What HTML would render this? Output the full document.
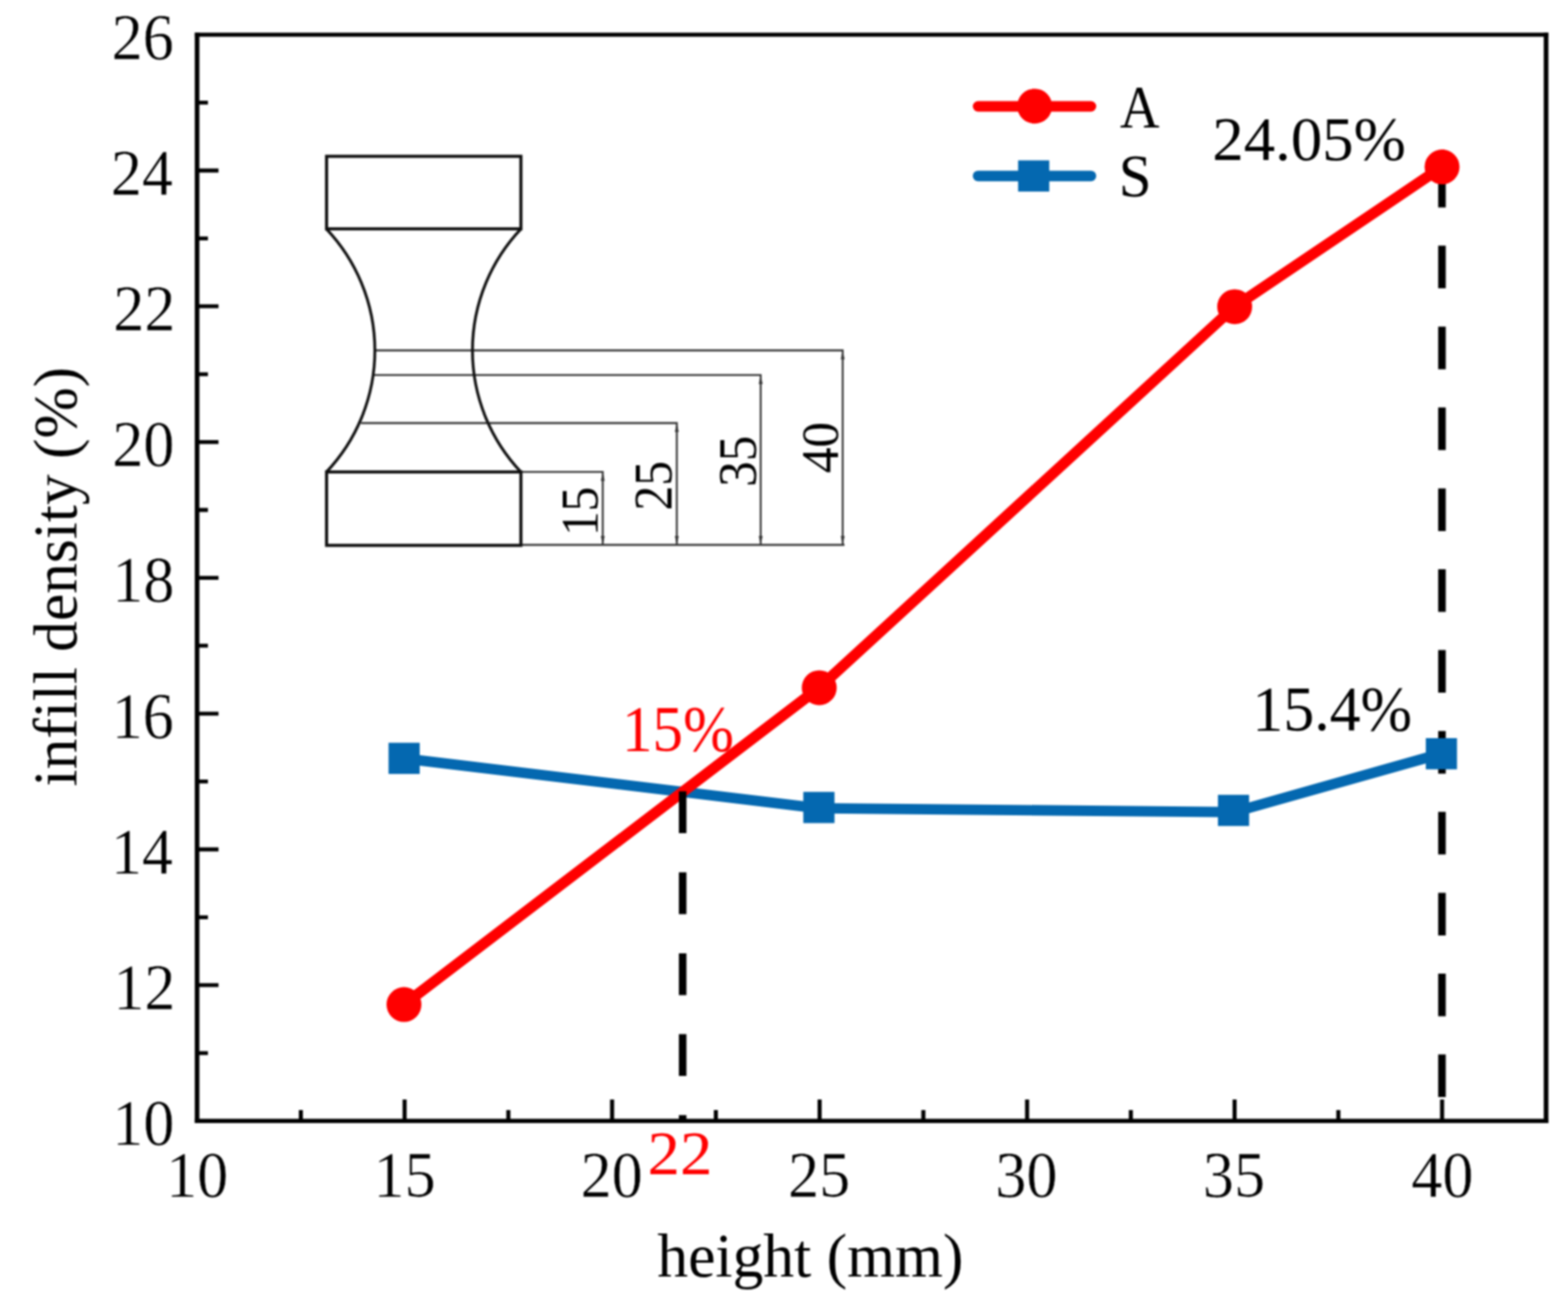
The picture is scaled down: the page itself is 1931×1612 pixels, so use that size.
<!DOCTYPE html>
<html lang="en"><head><meta charset="utf-8"><title>infill density vs height</title>
<style>
html,body{margin:0;padding:0;background:#fff;}
body{width:1931px;height:1612px;overflow:hidden;}
svg{display:block;}
text{font-family:"Liberation Serif",serif;fill:#000;stroke-linejoin:round;}
</style></head><body>
<svg width="1931" height="1612" viewBox="0 0 1931 1612" role="img" aria-label="infill density versus height chart">
<defs><filter id="soft" color-interpolation-filters="sRGB" x="0" y="0" width="1931" height="1612" filterUnits="userSpaceOnUse"><feGaussianBlur stdDeviation="1.00" color-interpolation-filters="sRGB"/></filter></defs>
<rect x="0" y="0" width="1931" height="1612" fill="#fff"/>
<g filter="url(#soft)">
<rect x="0" y="0" width="1931" height="1612" fill="#fff"/>
<g id="inset" fill="none" stroke-linecap="butt">
<g stroke="#333" stroke-width="2.3">
<path d="M461.5 431.5 H1037.8 V671.0"/>
<path d="M460.0 461.9 H936.8 V671.0"/>
<path d="M444.5 521.0 H833.5 V671.0"/>
<path d="M641.5 581.2 H742.3 V671.0"/>
<path d="M641.5 671.0 H1040"/>
</g>
<g fill="#333" stroke="none">
<path d="M1037.8 431.5 l-2.4 11 h4.8 z"/>
<path d="M1037.8 671.0 l-2.4 -11 h4.8 z"/>
<path d="M936.8 461.9 l-2.4 11 h4.8 z"/>
<path d="M936.8 671.0 l-2.4 -11 h4.8 z"/>
<path d="M833.5 521.0 l-2.4 11 h4.8 z"/>
<path d="M833.5 671.0 l-2.4 -11 h4.8 z"/>
<path d="M742.3 581.2 l-2.4 11 h4.8 z"/>
<path d="M742.3 671.0 l-2.4 -11 h4.8 z"/>
</g>
<g stroke="#111" stroke-width="3.5">
<path d="M402 282 A217.4 217.4 0 0 1 402 581.2"/>
<path d="M641.5 282 A217.4 217.4 0 0 0 641.5 581.2"/>
</g>
<g stroke="#0d0d0d" stroke-width="3.8" stroke-linejoin="miter">
<rect x="402.2" y="192.5" width="239.3" height="89.3"/>
<rect x="402.2" y="581.2" width="239.3" height="90.4"/>
</g>
</g>
<text transform="translate(736.04 659.95) rotate(-90) scale(0.9239 1)" style="font-size:65.56px;fill:#000">15</text>
<text transform="translate(827.13 628.86) rotate(-90) scale(0.9206 1)" style="font-size:66.72px;fill:#000">25</text>
<text transform="translate(930.83 599.55) rotate(-90) scale(0.9417 1)" style="font-size:66.87px;fill:#000">35</text>
<text transform="translate(1032.24 582.87) rotate(-90) scale(0.9553 1)" style="font-size:66.37px;fill:#000">40</text>
<text transform="translate(766.03 924.90) scale(0.9436 1)" style="font-size:79.70px;fill:#ff0000">15%</text>
<text transform="translate(1493.12 197.16) scale(1.0159 1)" style="font-size:76.03px">24.05%</text>
<text transform="translate(1542.35 898.93) scale(0.9728 1)" style="font-size:78.22px">15.4%</text>
<polyline fill="none" stroke="#0468b0" stroke-width="12.8" stroke-linejoin="round" points="497.7,934.1 1008.5,995.3 1519.5,1000.1 1775.3,928.0"/>
<polyline fill="none" stroke="#ff0000" stroke-width="13.3" stroke-linejoin="round" points="497.5,1237.1 1008.9,846.9 1520.5,377.7 1775.9,205.6"/>
<g stroke="#000" stroke-width="9.3" fill="none">
<path d="M840.7 974.5 V1380" stroke-dasharray="51.5 48.2"/>
<path d="M1775.8 203 V1380" stroke-dasharray="52.5 47.1"/>
</g>
<rect x="478.5" y="914.7" width="38.4" height="38.4" fill="#0468b0"/>
<rect x="989.3" y="975.2" width="38.4" height="38.4" fill="#0468b0"/>
<rect x="1499.9" y="978.8" width="38.4" height="38.4" fill="#0468b0"/>
<rect x="1755.9" y="909.0" width="38.4" height="38.4" fill="#0468b0"/>
<circle cx="497.5" cy="1237.1" r="21.5" fill="#ff0000"/>
<circle cx="1008.9" cy="846.9" r="21.5" fill="#ff0000"/>
<circle cx="1520.5" cy="377.7" r="21.5" fill="#ff0000"/>
<circle cx="1775.9" cy="205.6" r="21.5" fill="#ff0000"/>
<g stroke-linecap="round" fill="none">
<path d="M1204.5 131 H1343.5" stroke="#ff0000" stroke-width="13"/>
<path d="M1204.5 216.7 H1343.5" stroke="#0468b0" stroke-width="13"/>
</g>
<circle cx="1274.2" cy="130.7" r="21.5" fill="#ff0000"/>
<rect x="1253.8" y="197.5" width="38.4" height="38.4" fill="#0468b0"/>
<text transform="translate(1379.33 156.60) scale(0.9156 1)" style="font-size:73.59px">A</text>
<text transform="translate(1377.68 241.96) scale(0.9821 1)" style="font-size:73.88px">S</text>
<g stroke="#000" fill="none" stroke-linecap="butt">
<path d="M239.85 42.75 H1906.85 M239.85 1380.40 H1906.85" stroke-width="5.2"/>
<path d="M242.70 40.15 V1383.00 M1904.00 40.15 V1383.00" stroke-width="5.7"/>
<path d="M242.70 1296.80 h13.4 M242.70 1213.20 h26.4 M242.70 1129.60 h13.4 M242.70 1046.00 h26.4 M242.70 962.40 h13.4 M242.70 878.80 h26.4 M242.70 795.20 h13.4 M242.70 711.60 h26.4 M242.70 628.00 h13.4 M242.70 544.40 h26.4 M242.70 460.80 h13.4 M242.70 377.20 h26.4 M242.70 293.60 h13.4 M242.70 210.00 h26.4 M242.70 126.40 h13.4" stroke-width="4.8"/>
<path d="M370.52 1380.40 v-13.4 M498.28 1380.40 v-26.4 M626.05 1380.40 v-13.4 M753.82 1380.40 v-26.4 M881.59 1380.40 v-13.4 M1009.36 1380.40 v-26.4 M1137.12 1380.40 v-13.4 M1264.89 1380.40 v-26.4 M1392.66 1380.40 v-13.4 M1520.42 1380.40 v-26.4 M1648.19 1380.40 v-13.4 M1775.96 1380.40 v-26.4" stroke-width="5.0"/>
</g>
<text transform="translate(138.30 1410.10) scale(0.9660 1)" style="font-size:79.30px;stroke:#fff;stroke-width:0.50px">10</text>
<text transform="translate(139.45 1242.90) scale(0.9660 1)" style="font-size:79.30px;stroke:#fff;stroke-width:0.50px">12</text>
<text transform="translate(136.39 1075.70) scale(0.9660 1)" style="font-size:79.30px;stroke:#fff;stroke-width:0.50px">14</text>
<text transform="translate(137.54 908.50) scale(0.9660 1)" style="font-size:79.30px;stroke:#fff;stroke-width:0.50px">16</text>
<text transform="translate(138.30 741.30) scale(0.9660 1)" style="font-size:79.30px;stroke:#fff;stroke-width:0.50px">18</text>
<text transform="translate(138.30 574.10) scale(0.9660 1)" style="font-size:79.30px;stroke:#fff;stroke-width:0.50px">20</text>
<text transform="translate(139.45 406.90) scale(0.9660 1)" style="font-size:79.30px;stroke:#fff;stroke-width:0.50px">22</text>
<text transform="translate(136.39 239.70) scale(0.9660 1)" style="font-size:79.30px;stroke:#fff;stroke-width:0.50px">24</text>
<text transform="translate(137.54 72.50) scale(0.9660 1)" style="font-size:79.30px;stroke:#fff;stroke-width:0.50px">26</text>
<text transform="translate(204.43 1474.30) scale(0.9660 1)" style="font-size:79.30px;stroke:#fff;stroke-width:0.50px">10</text>
<text transform="translate(459.97 1474.30) scale(0.9660 1)" style="font-size:79.30px;stroke:#fff;stroke-width:0.50px">15</text>
<text transform="translate(714.93 1474.30) scale(0.9660 1)" style="font-size:79.30px;stroke:#fff;stroke-width:0.50px">20</text>
<text transform="translate(970.46 1474.30) scale(0.9660 1)" style="font-size:79.30px;stroke:#fff;stroke-width:0.50px">25</text>
<text transform="translate(1225.81 1474.30) scale(0.9660 1)" style="font-size:79.30px;stroke:#fff;stroke-width:0.50px">30</text>
<text transform="translate(1481.34 1474.30) scale(0.9660 1)" style="font-size:79.30px;stroke:#fff;stroke-width:0.50px">35</text>
<text transform="translate(1738.02 1474.30) scale(0.9660 1)" style="font-size:79.30px;stroke:#fff;stroke-width:0.50px">40</text>
<text transform="translate(809.54 1572.42) scale(0.9901 1)" style="font-size:76.57px">height (mm)</text>
<text transform="translate(93.68 968.61) rotate(-90) scale(0.9978 1)" style="font-size:75.82px">infill density (%)</text>
<text transform="translate(797.62 1446.20) scale(1.0350 1)" style="font-size:76.97px;fill:#ff0000">22</text>
</g>
</svg>
</body></html>
